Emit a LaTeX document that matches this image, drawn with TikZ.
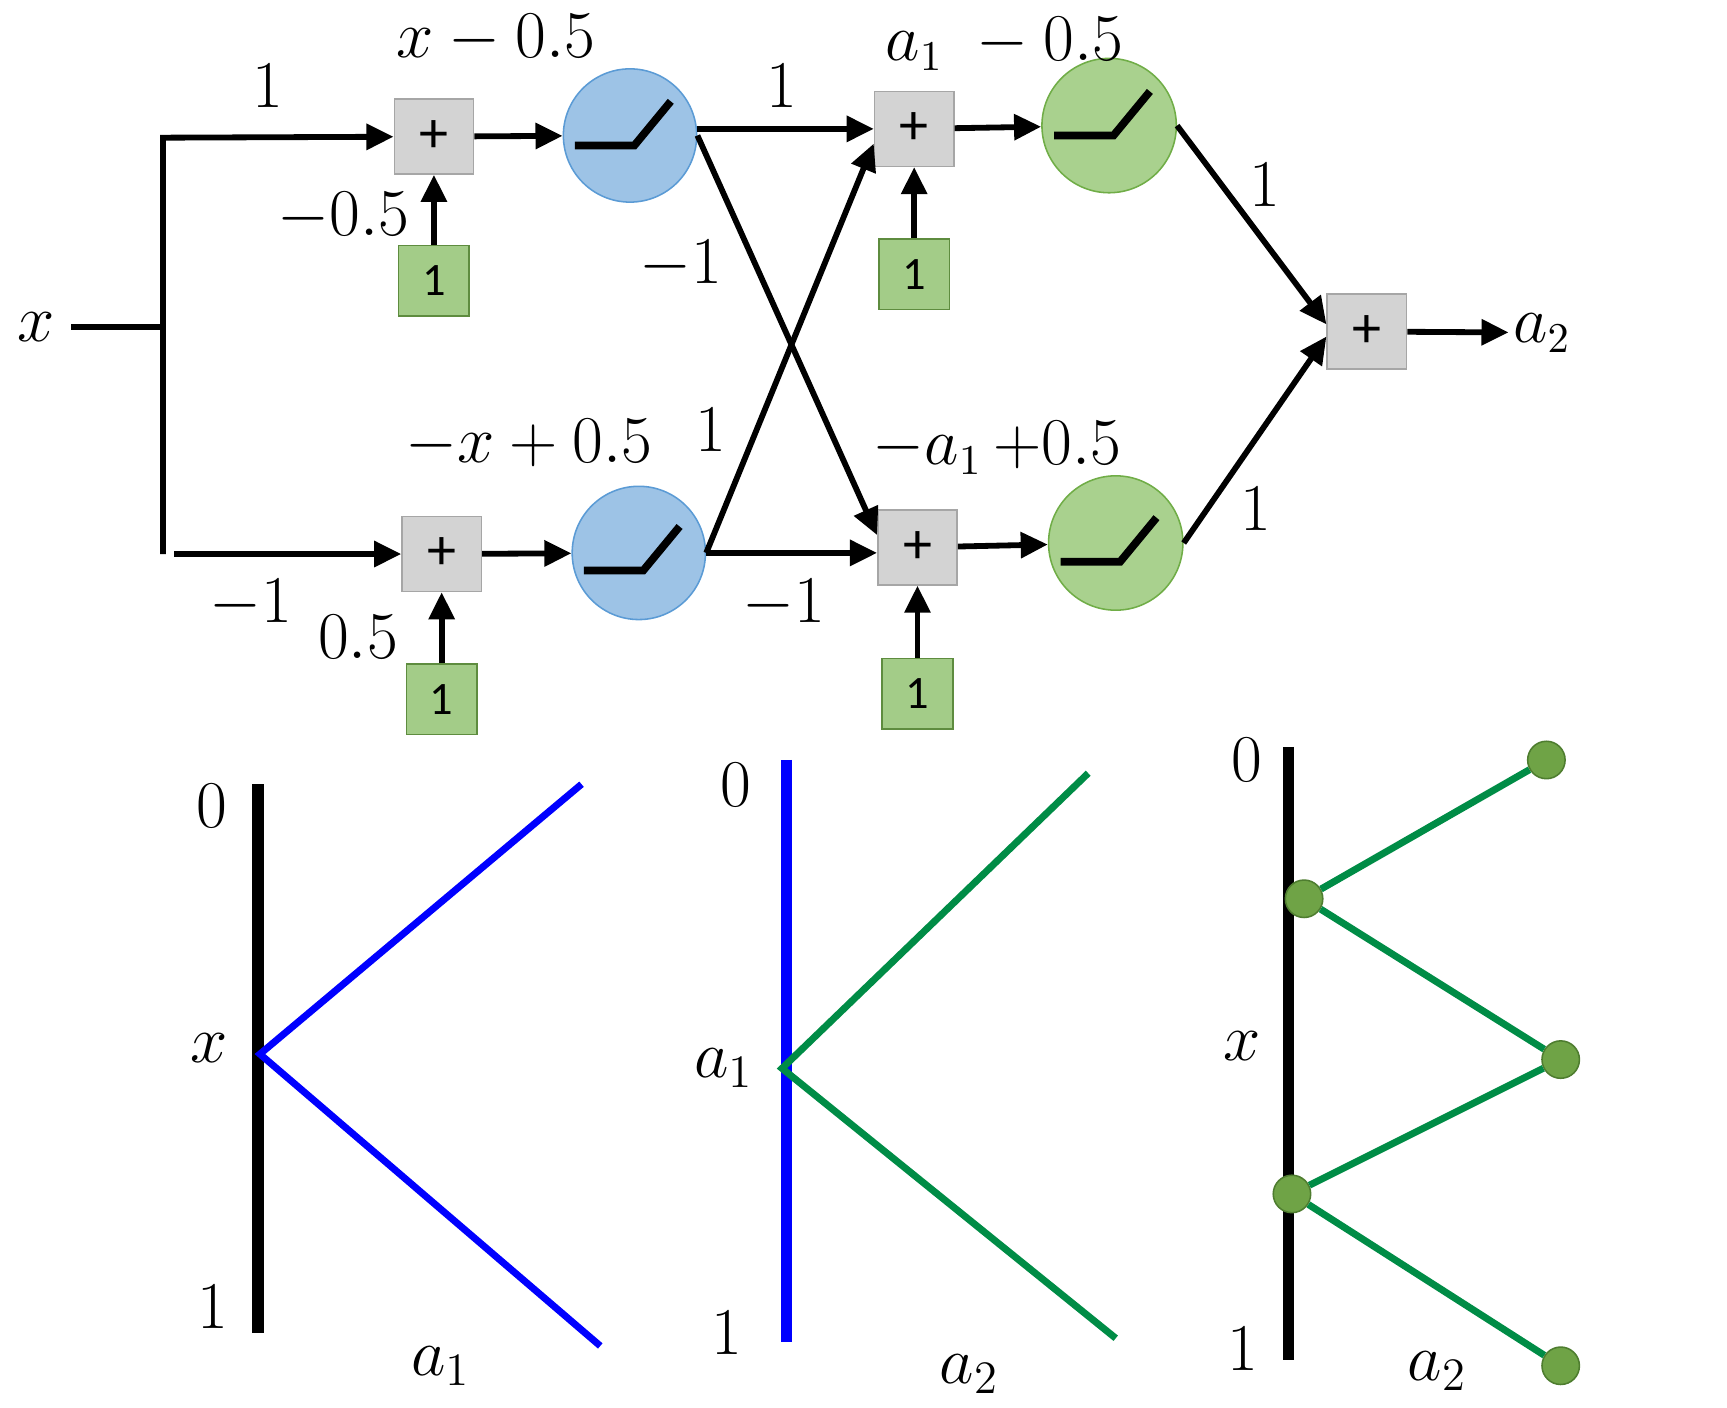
\documentclass[tikz,border=0pt]{standalone}
\usepackage{fontspec}
\newfontfamily\boxfont{Carlito}
\usepackage{tikz}
\usetikzlibrary{arrows.meta, positioning, calc}
\definecolor{sumfill}{HTML}{D3D3D3}
\definecolor{sumedge}{HTML}{A6A6A6}
\definecolor{biasfill}{HTML}{A3CC88}
\definecolor{biasedge}{HTML}{5E8C3F}
\definecolor{bluefill}{HTML}{9DC3E6}
\definecolor{blueedge}{HTML}{5B9BD5}
\definecolor{greenfill}{HTML}{A9D18E}
\definecolor{greenedge}{HTML}{70AD47}
\definecolor{plotgreen}{RGB}{0,140,70}
\definecolor{dotfill}{HTML}{6FA346}
\definecolor{dotedge}{HTML}{4E7D2F}

\begin{document}
\begin{tikzpicture}[
    sumbox/.style={draw=sumedge, fill=sumfill, minimum width=0.72cm, minimum height=0.68cm, inner sep=0pt, font=\boxfont\fontsize{15}{17}\selectfont},
    biasbox/.style={draw=biasedge, fill=biasfill, minimum size=0.64cm, inner sep=0pt, font=\boxfont\fontsize{12}{14}\selectfont},
    blueunit/.style={circle, draw=blueedge, fill=bluefill, minimum size=1.21cm, inner sep=0pt},
    greenunit/.style={circle, draw=greenedge, fill=greenfill, minimum size=1.22cm, inner sep=0pt},
    lbl/.style={font=\fontsize{16}{19}\selectfont, inner sep=1pt},
    plbl/.style={font=\fontsize{17}{20}\selectfont, inner sep=1pt},
    wire/.style={line width=1.5pt},
    arr/.style={-{Triangle[length=7pt,width=6.5pt]}, line width=1.5pt},
    glyph/.style={line width=2pt},
    dot/.style={circle, draw=dotedge, fill=dotfill, minimum size=0.34cm, inner sep=0pt},
]
    \useasboundingbox (0,0) rectangle (15.68,-12.78);

    % Input and branch
    \node[lbl, inner sep=4pt] (xin) at (0.33,-2.97) {$x$};
    \coordinate (br) at (1.48,-2.97);
    \coordinate (bt) at (1.48,-1.25);
    \coordinate (bb) at (1.48,-5.03);
    \coordinate (bb2) at (1.58,-5.03);

    % First layer
    \node[sumbox] (s1) at (3.94,-1.24) {+};
    \node[sumbox] (s2) at (4.01,-5.03) {+};
    \node[biasbox] (b1) at (3.94,-2.55) {1};
    \node[biasbox] (b2) at (4.01,-6.35) {1};
    \node[blueunit] (c1) at (5.72,-1.23) {};
    \node[blueunit] (c2) at (5.80,-5.02) {};

    % Second layer
    \node[sumbox] (s3) at (8.30,-1.17) {+};
    \node[sumbox] (s4) at (8.33,-4.97) {+};
    \node[biasbox] (b3) at (8.30,-2.49) {1};
    \node[biasbox] (b4) at (8.33,-6.30) {1};
    \node[greenunit] (c3) at (10.07,-1.14) {};
    \node[greenunit] (c4) at (10.13,-4.93) {};

    % Output
    \node[sumbox] (s5) at (12.41,-3.01) {+};
    \node[lbl] (a2) at (14.00,-3.02) {$a_2$};

    % ReLU glyphs
    \foreach \c/\dy in {c1/0.09, c2/0.16, c3/0.09, c4/0.17}
        \draw[glyph] ($(\c)+(-0.50,-\dy)$) -- ++(0.54,0) -- ++(0.33,0.40);

    % Arrows
    \draw[wire] (xin) -- (br);
    \draw[arr] (bb) -- (bt) -- (s1);
    \draw[arr] (bb2) -- (s2);
    \draw[arr] (b1) -- (s1);
    \draw[arr] (b2) -- (s2);
    \draw[arr] (s1) -- (c1);
    \draw[arr] (s2) -- (c2);
    \draw[arr] (c1.east |- s3.west) -- (s3.west);
    \draw[arr] (c1.east) -- (s4.163);
    \draw[arr] (c2.east) -- (s3.200);
    \draw[arr] (c2.east) -- (c2.east -| s4.west);
    \draw[arr] (b3) -- (s3);
    \draw[arr] (b4) -- (s4);
    \draw[arr] (s3) -- (c3);
    \draw[arr] (s4) -- (c4);
    \draw[arr] (c3.east) -- (s5.170);
    \draw[arr] (c4.east) -- (s5.187);
    \draw[arr] (s5) -- (a2);

    % Weights and sums
    \node[lbl] (w1) at (2.43,-0.78) {$1$};
    \node[lbl] (w2) at (2.28,-5.48) {$-1$};
    \node[lbl] (w3) at (3.12,-1.97) {$-0.5$};
    \node[lbl] (w4) at (3.25,-5.78) {$0.5$};
    \node[lbl] (z1) at (4.50,-0.35) {$x-0.5$};
    \node[lbl] (z2) at (4.80,-4.03) {$-x+0.5$};
    \node[lbl] (w5) at (7.10,-0.78) {$1$};
    \node[lbl] (w6) at (6.18,-2.40) {$-1$};
    \node[lbl] (w7) at (6.45,-3.90) {$1$};
    \node[lbl] (w8) at (7.12,-5.48) {$-1$};
    \node[lbl] (z3) at (9.12,-0.40) {$a_1\;-0.5$};
    \node[lbl] (z4) at (9.05,-4.07) {$-a_1\,{+}0.5$};
    \node[lbl] (w9) at (11.48,-1.68) {$1$};
    \node[lbl] (w10) at (11.40,-4.62) {$1$};

    % Plot: x -> a1
    \coordinate (v1) at (2.36,-9.57);
    \coordinate (e1) at (5.28,-7.12);
    \coordinate (e2) at (5.45,-12.22);
    \draw[line width=3pt] (2.34,-7.12) -- (2.34,-12.10);
    \draw[blue, line width=1.8pt] (e1) -- (v1) -- (e2);
    \node[plbl] at (1.92,-7.32) {$0$};
    \node[plbl] at (1.90,-9.52) {$x$};
    \node[plbl] at (1.93,-11.87) {$1$};
    \node[plbl] at (4.00,-12.40) {$a_1$};

    % Plot: a1 -> a2
    \coordinate (v2) at (7.10,-9.70);
    \coordinate (e3) at (9.88,-7.02);
    \coordinate (e4) at (10.13,-12.15);
    \draw[blue, line width=3pt] (7.14,-6.90) -- (7.14,-12.18);
    \draw[plotgreen, line width=1.8pt] (e3) -- (v2) -- (e4);
    \node[plbl] at (6.68,-7.13) {$0$};
    \node[plbl] at (6.57,-9.70) {$a_1$};
    \node[plbl] at (6.60,-12.10) {$1$};
    \node[plbl] at (8.80,-12.48) {$a_2$};

    % Plot: x -> a2
    \draw[line width=3pt] (11.70,-6.78) -- (11.70,-12.35);
    \node[dot] (p1) at (14.04,-6.90) {};
    \node[dot] (p2) at (11.84,-8.16) {};
    \node[dot] (p3) at (14.17,-9.62) {};
    \node[dot] (p4) at (11.73,-10.84) {};
    \node[dot] (p5) at (14.17,-12.40) {};
    \draw[plotgreen, line width=1.8pt] (p1) -- (p2) -- (p3) -- (p4) -- (p5);
    \node[plbl] at (11.32,-6.90) {$0$};
    \node[plbl] at (11.28,-9.50) {$x$};
    \node[plbl] at (11.28,-12.25) {$1$};
    \node[plbl] at (13.05,-12.45) {$a_2$};
\end{tikzpicture}
\end{document}
